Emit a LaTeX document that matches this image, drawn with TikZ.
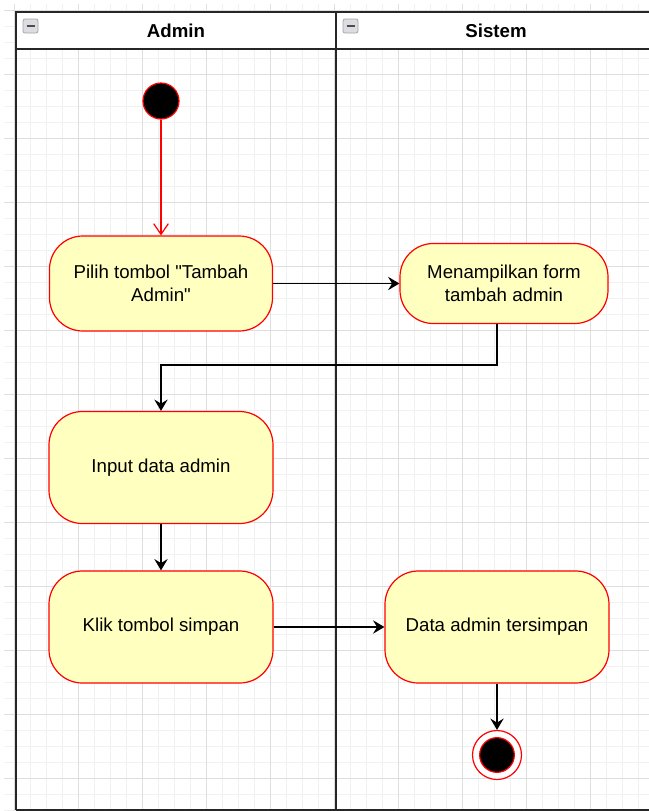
\documentclass[tikz,border=0pt]{standalone}
\usepackage{fontspec}
\setmainfont{Liberation Sans}
\usepackage{tikz}
\usetikzlibrary{positioning,arrows.meta}

\definecolor{actfill}{HTML}{FFFFC0}
\definecolor{gridminor}{HTML}{F1F1F1}
\definecolor{gridmajor}{HTML}{DEDEDE}

\begin{document}
\begin{tikzpicture}[->,>={Stealth[length=8.5pt,width=10pt,inset=3pt]},x=0.75pt,y=-0.75pt,on
      grid,auto,line width=1pt,font=\fontsize{14}{17}\selectfont,
      minor/.style={-,draw=gridminor,line width=0.75pt},
      major/.style={-,draw=gridmajor,line width=0.75pt},
      pool/.style={-,draw=black!85,line width=1.5pt},
      icon/.style={-,draw=gray!70,fill=blue!10!gray!25,rounded corners=1.5pt,line width=0.6pt},
      act/.style={draw=red,fill=actfill,rounded corners=25pt,line width=0.9pt,align=center,minimum width=168pt,minimum height=84pt},
      initial/.style={circle,draw=red,fill=black,line width=0.9pt,minimum size=27pt,inner sep=0pt},
      final/.style={circle,draw=red,fill=white,line width=0.9pt,minimum size=36.75pt,inner sep=0pt,
        path picture={\draw[-,red,fill=black,line width=0.9pt] (path picture bounding box.center) circle (13pt);}}]
			\useasboundingbox (0,0) rectangle (649,811);
			\fill[white] (0,0) rectangle (649,811);
			% grid
			\foreach \i in {0,...,40} \draw[minor] ({14+16*\i},4) -- ({14+16*\i},811);
			\foreach \j in {0,...,50} \draw[minor] (4,{10+16*\j}) -- (649,{10+16*\j});
			\foreach \i in {0,...,10} \draw[major] ({14+64*\i},4) -- ({14+64*\i},811);
			\foreach \j in {0,...,12} \draw[major] (4,{10+64*\j}) -- (649,{10+64*\j});
			% swimlanes
			\fill[white] (16,12) rectangle (660,49);
			\draw[pool] (16,810) -- (16,12) -- (660,12);
			\draw[pool] (16,49) -- (660,49);
			\draw[pool] (336,12) -- (336,810);
			\draw[pool] (16,810) -- (660,810);
			\draw[icon] (23,19) rectangle (38,33);
			\draw[-,black!70,line width=1.1pt] (26.5,26) -- (34.5,26);
			\draw[icon] (343,19) rectangle (358,33);
			\draw[-,black!70,line width=1.1pt] (346.5,26) -- (354.5,26);
			\node (h1) at (176,31) {\bfseries Admin};
			\node (h2) at (496,31) {\bfseries Sistem};
			% activities
			\node[initial] (q0) at (161,101) {};
			\node[act,minimum width=167.25pt,minimum height=71.25pt] (a1) [below=136.875pt of q0] {Pilih tombol \textquotedbl Tambah\\Admin\textquotedbl};
			\node[act,minimum width=156pt,minimum height=60pt] (a2) [right=257.25pt of a1] {Menampilkan form\\tambah admin};
			\node[act] (a3) [below=138pt of a1] {Input data admin};
			\node[act] (a4) [below=119.625pt of a3] {Klik tombol simpan};
			\node[act] (a5) [right=252pt of a4] {Data admin tersimpan};
			\node[final] (f0) [below=96pt of a5] {};
			\path
				(q0) edge[red,line width=0.9pt,-{Straight Barb[length=8pt,width=11pt]}] (a1)
				(a1) edge (a2)
				(a3) edge (a4)
				(a4) edge (a5)
				(a5) edge (f0);
			\draw (a2.south -| f0) -- ++(0,41) -| (a3);
		\end{tikzpicture}
\end{document}
